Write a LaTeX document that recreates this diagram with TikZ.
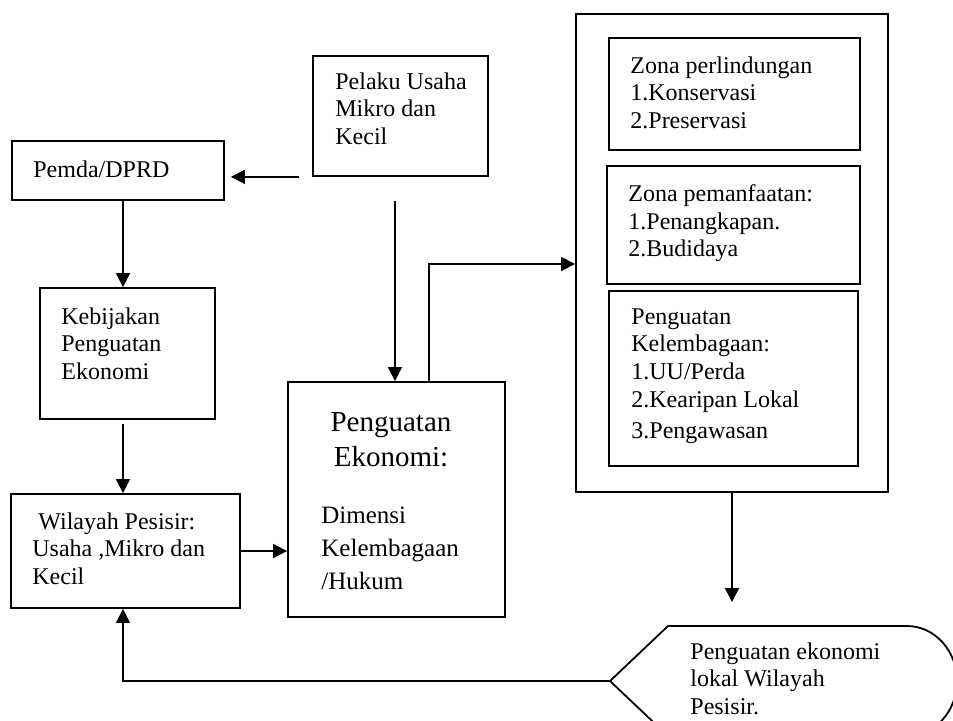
\documentclass[tikz,border=0pt]{standalone}
\usepackage{fontspec}
\setmainfont{Liberation Serif}
\usepackage{tikz}
\usetikzlibrary{arrows.meta,positioning}

\begin{document}
\begin{tikzpicture}[x=0.5pt, y=-0.5pt,
  box/.style={draw, line width=0.9pt, inner sep=0pt},
  txt/.style={inner sep=0pt, align=left, anchor=north west, font=\fontsize{12}{13.9}\selectfont},
  arr/.style={-{Triangle[length=7pt,width=7pt]}, line width=0.8pt}]
  \useasboundingbox (0,0) rectangle (953,720);
  \clip (0,0) rectangle (953,720);
  % Left column
  \node[box, minimum width=106pt, minimum height=29.5pt] (pemda) at (118,170.5) {};
  \node[txt] (pemdatxt) at (33,160) {Pemda/DPRD};
  \node[box, minimum width=87.5pt, minimum height=65.5pt] (kebijakan) at (127.5,353.5) {};
  \node[txt] (kebijakantxt) at (61,307) {Kebijakan\\Penguatan\\Ekonomi};
  \node[box, minimum width=114.5pt, minimum height=57pt] (wilayah) at (125.5,551) {};
  \node[txt] (wilayahtxt) at (32,512) {\hspace{3pt}Wilayah Pesisir:\\Usaha ,Mikro dan\\Kecil};
  % Middle column
  \node[box, minimum width=87.5pt, minimum height=60pt] (pelaku) at (400.5,116) {};
  \node[txt] (pelakutxt) at (335,72) {Pelaku Usaha\\Mikro dan\\Kecil};
  \node[box, minimum width=108.5pt, minimum height=117.5pt] (penguatan) at (396.5,499.5) {};
  \node[txt, anchor=north, align=center, font=\fontsize{14.5}{17.5}\selectfont] (penghead) at (391,412) {Penguatan\\Ekonomi:};
  \node[txt, font=\fontsize{12.5}{16.5}\selectfont] (pengdim) at (321,507) {Dimensi\\Kelembagaan\\/Hukum};
  % Right column: zones
  \node[box, minimum width=156pt, minimum height=239pt] (outer) at (732,253) {};
  \node[box, minimum width=125.5pt, minimum height=56pt] (zonalindung) at (734.5,94) {};
  \node[txt] (zonalindungtxt) at (630,56) {Zona perlindungan\\1.Konservasi\\2.Preservasi};
  \node[box, minimum width=126.5pt, minimum height=59pt] (zonamanfaat) at (733.5,225) {};
  \node[txt] (zonamanfaattxt) at (628,184) {Zona pemanfaatan:\\1.Penangkapan.\\2.Budidaya};
  \node[box, minimum width=124.5pt, minimum height=87.5pt] (lembaga) at (733.5,378.5) {};
  \node[txt] (lembagatxt) at (631,308) {Penguatan\\Kelembagaan:\\1.UU/Perda\\2.Kearipan Lokal\\[1.5pt]3.Pengawasan};
  % Display shape
  \coordinate (disptip) at (610,681);
  \coordinate (dispin) at (732,602);
  \draw[line width=0.9pt] (disptip) -- (668,626) -- (907,626)
    arc[start angle=90, end angle=-90, x radius=25pt, y radius=27.5pt] -- (668,736) -- cycle;
  \node[txt] (disp) at (690,642) {Penguatan ekonomi\\lokal Wilayah\\Pesisir.};
  % Arrows
  \draw[arr, shorten <=6.5pt, shorten >=3pt] (pelaku.south west) -- (pemda.east |- pelaku.south west);
  \draw[arr] (pemda.south -| 123,0) -- (kebijakan.north -| 123,0);
  \draw[arr, shorten <=2pt] (kebijakan.south -| 123,0) -- (wilayah.north -| 123,0);
  \draw[arr] (wilayah.east) -- (penguatan.west |- wilayah.east);
  \draw[arr, shorten <=12pt] (pelaku.south -| 395,0) -- (penguatan.north -| 395,0);
  \draw[arr] (penguatan.north -| 429,0) |- (outer.west |- 0,264);
  \draw[arr] (outer.south) -- (dispin);
  \draw[arr] (disptip) -| (wilayah.south -| 123,0);
\end{tikzpicture}
\end{document}
